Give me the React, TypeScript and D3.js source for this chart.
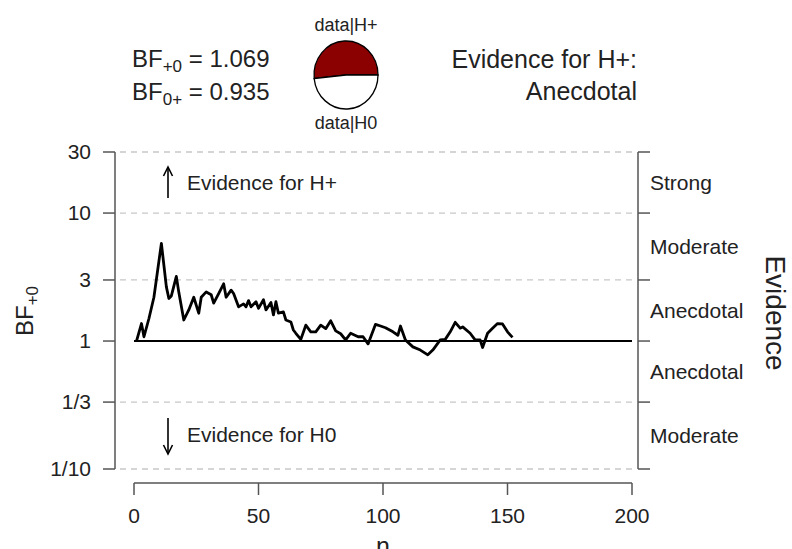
import React from "react";
import * as d3 from "d3";

const nValues = [1, 3, 4, 6, 8, 11, 13, 14, 15, 17, 18, 20, 22, 24, 26, 27, 29, 31, 32, 34, 36, 37, 39, 40, 42, 44, 45, 46, 47, 49, 50, 52, 53, 55, 56, 57, 58, 60, 61, 63, 64, 65, 67, 69, 71, 73, 75, 77, 79, 81, 83, 85, 87, 90, 92, 94, 97, 99, 101, 104, 106, 107, 109, 112, 115, 118, 120, 123, 125, 127, 129, 131, 132, 135, 137, 139, 140, 142, 144, 146, 148, 150, 152];
const bfValues = [1.0, 1.37, 1.08, 1.5, 2.2, 5.8, 2.65, 2.15, 2.25, 3.2, 2.4, 1.46, 1.75, 2.2, 1.65, 2.2, 2.42, 2.3, 1.98, 2.35, 2.8, 2.2, 2.5, 2.35, 1.85, 1.95, 1.85, 2.07, 1.85, 2.03, 1.8, 2.1, 1.75, 2.0, 1.6, 2.03, 1.65, 1.69, 1.46, 1.41, 1.22, 1.15, 1.03, 1.33, 1.18, 1.18, 1.33, 1.25, 1.44, 1.2, 1.14, 1.02, 1.15, 1.08, 1.08, 0.95, 1.35, 1.31, 1.27, 1.18, 1.11, 1.31, 1.02, 0.9, 0.85, 0.78, 0.85, 1.02, 1.03, 1.18, 1.4, 1.26, 1.29, 1.15, 1.02, 1.02, 0.89, 1.15, 1.26, 1.37, 1.36, 1.18, 1.069];

const yTickValues = [30, 10, 3, 1, 1 / 3, 1 / 10];
const yTickLabels = ["30", "10", "3", "1", "1/3", "1/10"];
const xTickValues = [0, 50, 100, 150, 200];
const evidenceBounds = [30, 10, 3, 1, 1 / 3, 1 / 10];
const evidenceLabels = ["Strong", "Moderate", "Anecdotal", "Anecdotal", "Moderate"];
const bfPlus0 = 1.069;
const bf0Plus = 0.935;

export default function App() {
  const x = d3.scaleLinear().domain([0, 200]).range([134, 632]);
  const y = d3.scaleLog().domain([0.1, 30]).range([469, 152]);
  const data = nValues.map((n, i) => [n, bfValues[i]] as [number, number]);
  const line = d3
    .line<[number, number]>()
    .x((d) => x(d[0]))
    .y((d) => y(d[1]));

  const pieCx = 346;
  const pieCy = 75;
  const pieR = 32;
  const pieRy = 34;
  const pH = bfPlus0 / (bfPlus0 + 1);
  const span = pH * 2 * Math.PI;
  const endA = Math.PI / 2;
  const startA = endA - span;
  const arc = d3.arc();
  const redPath = arc({ innerRadius: 0, outerRadius: pieR, startAngle: startA, endAngle: endA }) as string;
  const whitePath = arc({ innerRadius: 0, outerRadius: pieR, startAngle: endA, endAngle: startA + 2 * Math.PI }) as string;

  const font = "Liberation Sans, Arial, sans-serif";
  const axisColor = "#555";
  const textColor = "#222";

  return (
    <svg
      width={792}
      height={549}
      style={{ position: "absolute", left: 0, top: 0, background: "#fff" }}
      fontFamily={font}
    >
      {/* Header */}
      <text x={132} y={67} fontSize={24} fill={textColor}>
        BF<tspan fontSize={17} dy={5}>+0</tspan>
        <tspan dy={-5}> = {bfPlus0.toFixed(3)}</tspan>
      </text>
      <text x={132} y={100} fontSize={24} fill={textColor}>
        BF<tspan fontSize={17} dy={5}>0+</tspan>
        <tspan dy={-5}> = {bf0Plus.toFixed(3)}</tspan>
      </text>
      <text x={346} y={31} fontSize={18} textAnchor="middle" fill={textColor}>data|H+</text>
      <text x={346} y={129} fontSize={18} textAnchor="middle" fill={textColor}>data|H0</text>
      <g transform={`translate(${pieCx},${pieCy}) scale(1,${pieRy / pieR})`}>
        <path d={redPath} fill="#8b0000" stroke="#000" strokeWidth={1.3} />
        <path d={whitePath} fill="#fff" stroke="#000" strokeWidth={1.3} />
      </g>
      <text x={637} y={68} fontSize={25} textAnchor="end" fill={textColor}>Evidence for H+:</text>
      <text x={637} y={100} fontSize={25} textAnchor="end" fill={textColor}>Anecdotal</text>

      {/* Grid lines */}
      {yTickValues.map((v, i) =>
        v === 1 ? null : (
          <line key={"g" + i} x1={120} x2={636} y1={y(v)} y2={y(v)} stroke="#c8c8c8" strokeWidth={1.3} strokeDasharray="6,5" />
        )
      )}
      <line x1={x(0)} x2={x(200)} y1={y(1)} y2={y(1)} stroke="#000" strokeWidth={2} />

      {/* Data line */}
      <path d={line(data) as string} fill="none" stroke="#000" strokeWidth={2.8} strokeLinejoin="round" />

      {/* Left axis */}
      <line x1={115} x2={115} y1={y(30)} y2={y(0.1)} stroke={axisColor} strokeWidth={1.5} />
      {yTickValues.map((v, i) => (
        <g key={"yt" + i}>
          <line x1={103} x2={115} y1={y(v)} y2={y(v)} stroke={axisColor} strokeWidth={1.5} />
          <text x={91} y={y(v)} dy="0.35em" fontSize={21} textAnchor="end" fill={textColor}>{yTickLabels[i]}</text>
        </g>
      ))}
      <text transform={`translate(33,311) rotate(-90)`} fontSize={24} textAnchor="middle" fill={textColor}>
        BF<tspan fontSize={17} dy={5}>+0</tspan>
      </text>

      {/* Bottom axis */}
      <line x1={x(0)} x2={x(200)} y1={483} y2={483} stroke={axisColor} strokeWidth={1.5} />
      {xTickValues.map((v, i) => (
        <g key={"xt" + i}>
          <line x1={x(v)} x2={x(v)} y1={483} y2={495} stroke={axisColor} strokeWidth={1.5} />
          <text x={x(v)} y={523} fontSize={21} textAnchor="middle" fill={textColor}>{v}</text>
        </g>
      ))}
      <text x={x(100)} y={555} fontSize={25} textAnchor="middle" fill={textColor}>n</text>

      {/* Right axis */}
      <line x1={638} x2={638} y1={y(30)} y2={y(0.1)} stroke={axisColor} strokeWidth={1.5} />
      {evidenceBounds.map((v, i) => (
        <line key={"rt" + i} x1={638} x2={650} y1={y(v)} y2={y(v)} stroke={axisColor} strokeWidth={1.5} />
      ))}
      {evidenceLabels.map((lab, i) => {
        const mid = (y(evidenceBounds[i]) + y(evidenceBounds[i + 1])) / 2;
        return (
          <text key={"el" + i} x={650} y={mid} dy="0.35em" fontSize={21} fill={textColor}>{lab}</text>
        );
      })}
      <text transform={`translate(766,313) rotate(90)`} fontSize={28} textAnchor="middle" fill={textColor}>Evidence</text>

      {/* Annotations */}
      <g>
        <line x1={168} x2={168} y1={198} y2={168} stroke="#000" strokeWidth={1.6} />
        <path d="M163.5,176 L168,167 L172.5,176" fill="none" stroke="#000" strokeWidth={1.6} />
        <text x={187} y={190} fontSize={21} fill={textColor}>Evidence for H+</text>
        <line x1={168} x2={168} y1={418} y2={453} stroke="#000" strokeWidth={1.6} />
        <path d="M163.5,445 L168,454 L172.5,445" fill="none" stroke="#000" strokeWidth={1.6} />
        <text x={187} y={442} fontSize={21} fill={textColor}>Evidence for H0</text>
      </g>
    </svg>
  );
}
